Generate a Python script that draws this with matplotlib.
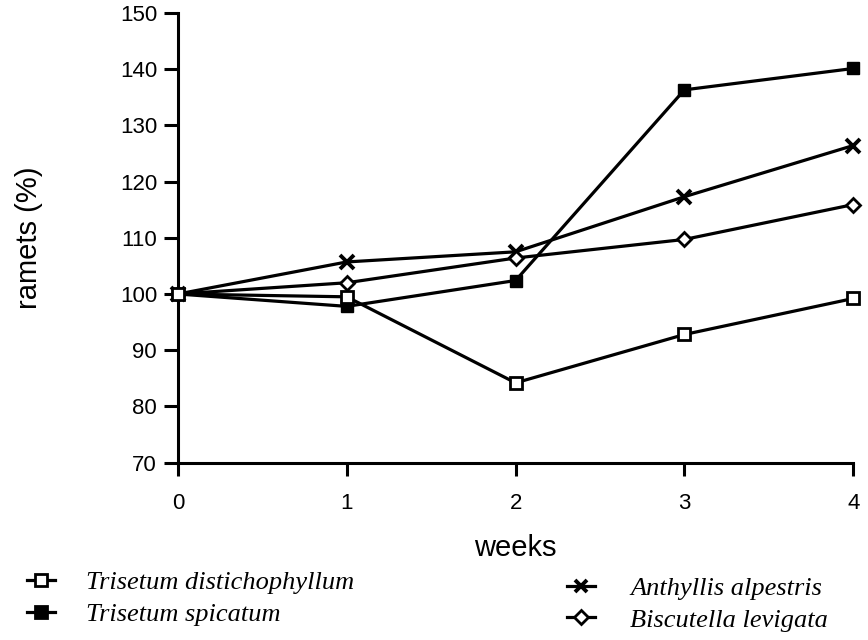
import matplotlib
matplotlib.use("Agg")
import matplotlib.pyplot as plt
from matplotlib.lines import Line2D

weeks = [0, 1, 2, 3, 4]
distichophyllum = [100, 99.5, 84.2, 92.8, 99.2]
spicatum = [100, 97.8, 102.4, 136.3, 140.1]
anthyllis = [100, 105.7, 107.5, 117.3, 126.4]
biscutella = [100, 102.0, 106.4, 109.7, 115.9]

yticks = [70, 80, 90, 100, 110, 120, 130, 140, 150]

plt.rcParams['font.family'] = ['Liberation Sans', 'DejaVu Sans']

fig = plt.figure(figsize=(8.68, 6.4), dpi=100)
ax = fig.add_axes([0.205, 0.277, 0.778, 0.703])

lw = 2.3
ax.plot(weeks, distichophyllum, color='black', lw=lw, marker='s', ms=9,
        mfc='white', mec='black', mew=2, clip_on=False, zorder=5)
ax.plot(weeks, spicatum, color='black', lw=lw, marker='s', ms=9,
        mfc='black', mec='black', clip_on=False, zorder=4)
ax.plot(weeks, anthyllis, color='black', lw=lw, marker='x', ms=10,
        mew=2.8, clip_on=False, zorder=3)
ax.plot(weeks, biscutella, color='black', lw=lw, marker='D', ms=7,
        mfc='white', mec='black', mew=2, clip_on=False, zorder=3)

ax.set_xlim(0, 4)
ax.set_ylim(70, 150)
ax.set_xticks(weeks)
ax.set_yticks(yticks)
for s in ['top', 'right']:
    ax.spines[s].set_visible(False)
for s in ['left', 'bottom']:
    ax.spines[s].set_linewidth(2.2)
ax.tick_params(axis='y', direction='out', length=10, width=2.2,
               labelsize=16, pad=5)
ax.tick_params(axis='x', direction='out', length=9, width=2.2,
               labelsize=16, pad=13)

ax.set_xlabel('weeks', fontsize=21, labelpad=14)
ax.set_ylabel('ramets (%)', fontsize=21, labelpad=55)

leg_font = {'family': 'Liberation Serif', 'style': 'italic', 'size': 19}

def handle(marker, face, ms, mew=2):
    return Line2D([], [], color='black', lw=2.3, marker=marker, ms=ms,
                  mfc=face, mec='black', mew=mew)

left = fig.legend([handle('s', 'white', 8), handle('s', 'black', 8)],
                  ['Trisetum distichophyllum', 'Trisetum spicatum'],
                  loc='upper left', bbox_to_anchor=(0.031, 0.108),
                  frameon=False, prop=leg_font, handlelength=1.05,
                  handletextpad=1.2, labelspacing=0.3, borderpad=0,
                  borderaxespad=0)
right = fig.legend([handle('x', 'black', 9, 2.8), handle('D', 'white', 7)],
                   ['Anthyllis alpestris', 'Biscutella levigata'],
                   loc='upper left', bbox_to_anchor=(0.653, 0.099),
                   frameon=False, prop=leg_font, handlelength=1.05,
                   handletextpad=1.35, labelspacing=0.3, borderpad=0,
                   borderaxespad=0)

fig.savefig('out.png', dpi=100, facecolor='white')
